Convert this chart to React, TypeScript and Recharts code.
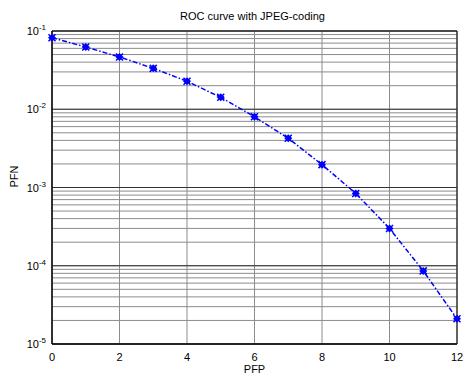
import React from 'react';
import { LineChart, Line, XAxis, YAxis, CartesianGrid, ReferenceArea, ReferenceLine } from 'recharts';

const pfp = [0, 1, 2, 3, 4, 5, 6, 7, 8, 9, 10, 11, 12];
const pfn = [0.082, 0.0625, 0.0466, 0.0333, 0.0228, 0.0142, 0.008, 0.00426, 0.00196, 0.00084, 0.0003, 0.000086, 0.000021];
const xTicks = [0, 2, 4, 6, 8, 10, 12];
const decades = [1e-5, 1e-4, 1e-3, 1e-2, 1e-1];
const exponents = ['-5', '-4', '-3', '-2', '-1'];

const data = pfp.map((x, i) => ({ pfp: x, pfn: pfn[i] }));

// minor grid lines 2..9 within each decade
const yTicks: number[] = [];
decades.forEach((d, i) => {
  yTicks.push(d);
  if (i < decades.length - 1) {
    for (let m = 2; m <= 9; m++) yTicks.push(d * m);
  }
});

const FONT = 'Arial, "Liberation Sans", sans-serif';

const YTick = (props: any) => {
  const { x, y, payload } = props;
  const idx = decades.findIndex((d) => Math.abs(d - payload.value) / d < 1e-6);
  if (idx < 0) return <g />;
  return (
    <text x={x + 2} y={y + 4} textAnchor="end" fontSize={11} fontFamily={FONT} fill="#000">
      10
      <tspan dy={-5} fontSize={8}>{exponents[idx]}</tspan>
    </text>
  );
};

const XTick = (props: any) => {
  const { x, y, payload } = props;
  return (
    <text x={x} y={y + 9} textAnchor="middle" fontSize={11} fontFamily={FONT} fill="#000">
      {payload.value}
    </text>
  );
};

const Marker = (props: any) => {
  const { cx, cy } = props;
  if (cx == null || cy == null) return <g />;
  return (
    <g>
      <path d={`M${cx - 4},${cy} L${cx},${cy - 4} L${cx + 4},${cy} L${cx},${cy + 4} Z`} fill="#0000ff" />
      <path d={`M${cx - 3.5},${cy - 3.5} L${cx + 3.5},${cy + 3.5} M${cx - 3.5},${cy + 3.5} L${cx + 3.5},${cy - 3.5}`} stroke="#0000ff" strokeWidth={1.5} />
    </g>
  );
};

export default function App() {
  return (
    <div style={{ position: 'absolute', left: 0, top: 0, width: 463, height: 376, background: '#fff' }}>
      <div style={{ position: 'absolute', left: 0, width: 463, top: 10, textAlign: 'center', paddingLeft: 42, boxSizing: 'border-box', fontFamily: FONT, fontSize: 11 }}>
        ROC curve with JPEG-coding
      </div>
      <LineChart width={463} height={376} data={data} margin={{ top: 31, right: 6, left: 0, bottom: 0 }}>
        <CartesianGrid stroke="#8c8c8c" strokeWidth={1} verticalValues={xTicks} horizontalValues={yTicks} />
        {decades.map((d) => (
          <ReferenceLine key={d} y={d} stroke="#333" strokeWidth={1} />
        ))}
        <XAxis
          dataKey="pfp"
          type="number"
          domain={[0, 12]}
          ticks={xTicks}
          interval={0}
          tickLine={false}
          axisLine={{ stroke: '#000' }}
          height={32}
          tick={<XTick />}
          label={{ value: 'PFP', position: 'insideBottom', offset: 3, fontSize: 11, fontFamily: FONT, fill: '#000' }}
        />
        <YAxis
          dataKey="pfn"
          type="number"
          scale="log"
          domain={[1e-5, 1e-1]}
          allowDataOverflow
          ticks={yTicks}
          interval={0}
          tickLine={false}
          axisLine={{ stroke: '#000' }}
          width={52}
          tick={<YTick />}
          label={{ value: 'PFN', angle: -90, position: 'insideLeft', offset: 14, fontSize: 11, fontFamily: FONT, fill: '#000' }}
        />
        <ReferenceArea x1={0} x2={12} y1={1e-5} y2={1e-1} fill="none" stroke="#000" strokeWidth={1} />
        <Line
          type="linear"
          dataKey="pfn"
          stroke="#0000ff"
          strokeWidth={1.5}
          strokeDasharray="5 2 1.5 2"
          dot={<Marker />}
          activeDot={false}
          isAnimationActive={false}
        />
      </LineChart>
    </div>
  );
}
